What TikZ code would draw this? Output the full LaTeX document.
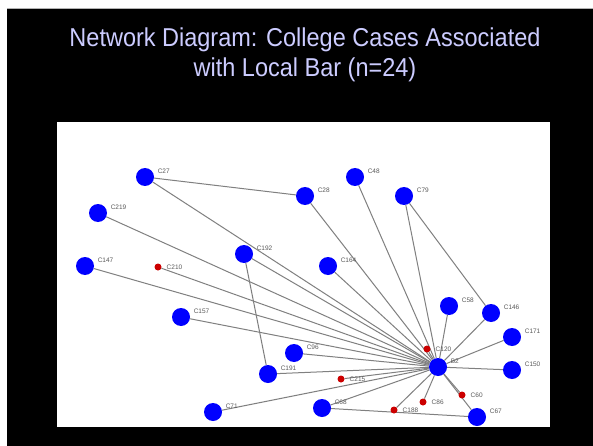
\documentclass[tikz,border=0pt]{standalone}
\usepackage{fontspec}
\setmainfont{Liberation Sans}
\pgfdeclarelayer{background}
\pgfdeclarelayer{edges}
\pgfsetlayers{background,edges,main}
\definecolor{titlelav}{RGB}{204,204,255}
\definecolor{casered}{RGB}{204,0,0}
\tikzset{casenode/.style = {shape=circle,fill=blue,minimum size=18pt,inner sep=0pt}}
\tikzset{contact/.style = {shape=circle,fill=casered,minimum size=7pt,inner sep=0pt}}
\tikzset{lbl/.style = {font=\fontsize{6.5}{7}\selectfont,text=black!65,anchor=west}}
\tikzset{edge/.style = {draw=black!50,line width=1pt}}
\begin{document}
\begin{tikzpicture}[x=1pt,y=-1pt,label distance=1.5pt]
\useasboundingbox (0,0) rectangle (593,446);
% frame
\begin{pgfonlayer}{background}
\fill[black] (7,8) rectangle (593,446);
\draw[black!30] (7,8) -- (593,8);
\fill[white] (57,122) rectangle (550,427);
\end{pgfonlayer}
\node[align=center,text=titlelav,font=\fontsize{23.5}{27}\selectfont,yscale=1.1] (heading) at (305,55)
  {Network Diagram: College Cases Associated\\with Local Bar (n=24)};
% vertices
\node[casenode,label={[lbl]30:C27}] (c27) at (145,177) {};
\node[casenode,label={[lbl]30:C28}] (c28) at (305,196) {};
\node[casenode,label={[lbl]30:C48}] (c48) at (355,177) {};
\node[casenode,label={[lbl]30:C79}] (c79) at (404,196) {};
\node[casenode,label={[lbl]30:C219}] (c219) at (98,213) {};
\node[casenode,label={[lbl]30:C192}] (c192) at (244,254) {};
\node[casenode,label={[lbl]30:C147}] (c147) at (85,266) {};
\node[contact,label={[lbl]0:C210}] (c210) at (158,267) {};
\node[casenode,label={[lbl]30:C164}] (c164) at (328,266) {};
\node[casenode,label={[lbl]30:C58}] (c58) at (449,306) {};
\node[casenode,label={[lbl]30:C146}] (c146) at (491,313) {};
\node[casenode,label={[lbl]30:C157}] (c157) at (181,317) {};
\node[casenode,label={[lbl]30:C171}] (c171) at (512,337) {};
\node[contact,label={[lbl]0:C120}] (c120) at (427,349) {};
\node[casenode,label={[lbl]30:C96}] (c96) at (294,353) {};
\node[casenode,label={[lbl]30:B2}] (b2) at (438,367) {};
\node[casenode,label={[lbl]30:C150}] (c150) at (512,370) {};
\node[casenode,label={[lbl]30:C191}] (c191) at (268,374) {};
\node[contact,label={[lbl]0:C215}] (c215) at (341,379) {};
\node[contact,label={[lbl]0:C60}] (c60) at (462,395) {};
\node[contact,label={[lbl]0:C86}] (c86) at (423,402) {};
\node[casenode,label={[lbl]30:C71}] (c71) at (213,412) {};
\node[casenode,label={[lbl]30:C68}] (c68) at (322,408) {};
\node[contact,label={[lbl]0:C188}] (c188) at (394,410) {};
\node[casenode,label={[lbl]30:C67}] (c67) at (477,417) {};
%edges
\begin{pgfonlayer}{edges}
\draw[edge] (c27) -- (c28);
\draw[edge] (c192) -- (c191);
\draw[edge] (c79) -- (c146);
\draw[edge] (c68) -- (c67);
\draw[edge] (b2) -- (c67);
\foreach \v in {c27,c28,c48,c79,c219,c192,c147,c210,c164,c58,c146,c157,c171,
  c120,c96,c150,c191,c215,c60,c86,c71,c68,c188}
  \draw[edge] (b2) -- (\v);
\end{pgfonlayer}
\end{tikzpicture}
\end{document}
